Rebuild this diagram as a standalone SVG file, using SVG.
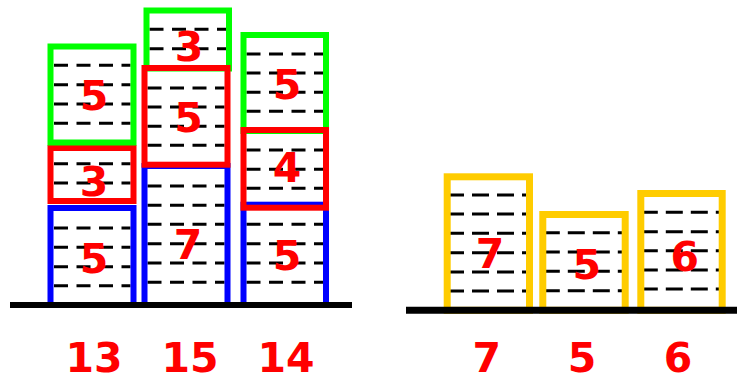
<svg xmlns="http://www.w3.org/2000/svg" width="738" height="383" viewBox="0 0 738 383">
<style>
.bx{fill:none;stroke-width:6}
.by{fill:none;stroke-width:7;stroke:#FFCC00}
.g{stroke:#00FF00}.r{stroke:#FF0000}.b{stroke:#0000FF}
.dl{stroke:#000;stroke-width:3;stroke-dasharray:14 8.5}
.dr{stroke:#000;stroke-width:3;stroke-dasharray:17 8}
.t{font-family:"DejaVu Sans",Verdana,sans-serif;font-weight:bold;font-size:41px;fill:#FF0000;text-anchor:middle}
.gr{stroke:#000}
</style>
<rect width="738" height="383" fill="#fff"/>
<!-- Column 1 -->
<g id="c1-blue">
<line class="dl" x1="54" x2="130.5" y1="228" y2="228"/><line class="dl" x1="54" x2="130.5" y1="247.3" y2="247.3"/><line class="dl" x1="54" x2="130.5" y1="266.7" y2="266.7"/><line class="dl" x1="54" x2="130.5" y1="285.7" y2="285.7"/>
<rect class="bx b" x="50.5" y="208" width="83" height="97"/>
<text class="t" x="94" y="273">5</text>
</g>
<g id="c1-red">
<line class="dl" x1="54" x2="130.5" y1="163.7" y2="163.7"/><line class="dl" x1="54" x2="130.5" y1="183" y2="183"/>
<rect class="bx r" x="50.5" y="148" width="83" height="53"/>
<text class="t" x="94" y="196">3</text>
</g>
<g id="c1-green">
<line class="dl" x1="54" x2="130.5" y1="65.3" y2="65.3"/><line class="dl" x1="54" x2="130.5" y1="84.7" y2="84.7"/><line class="dl" x1="54" x2="130.5" y1="104" y2="104"/><line class="dl" x1="54" x2="130.5" y1="123.3" y2="123.3"/>
<rect class="bx g" x="50.5" y="46.5" width="83" height="96"/>
<text class="t" x="94" y="110">5</text>
</g>
<!-- Column 2 -->
<g id="c2-blue">
<line class="dl" x1="147.5" x2="224.5" y1="186" y2="186"/><line class="dl" x1="147.5" x2="224.5" y1="205.3" y2="205.3"/><line class="dl" x1="147.5" x2="224.5" y1="224.3" y2="224.3"/><line class="dl" x1="147.5" x2="224.5" y1="243.7" y2="243.7"/><line class="dl" x1="147.5" x2="224.5" y1="263" y2="263"/><line class="dl" x1="147.5" x2="224.5" y1="282.3" y2="282.3"/>
<rect class="bx b" x="144.5" y="166" width="83" height="139"/>
<text class="t" x="188" y="259">7</text>
</g>
<g id="c2-green">
<line class="dl" x1="149.5" x2="226" y1="29.3" y2="29.3"/><line class="dl" x1="149.5" x2="226" y1="48.7" y2="48.7"/>
<rect class="bx g" x="146.5" y="10.5" width="82.5" height="58"/>
<text class="t" x="189" y="61">3</text>
</g>
<g id="c2-red">
<line class="dl" x1="147.5" x2="224.5" y1="88" y2="88"/><line class="dl" x1="147.5" x2="224.5" y1="107" y2="107"/><line class="dl" x1="147.5" x2="224.5" y1="126.3" y2="126.3"/><line class="dl" x1="147.5" x2="224.5" y1="145.3" y2="145.3"/>
<rect class="bx r" x="144.5" y="68" width="83" height="96.7"/>
<text class="t" x="188.5" y="131.5">5</text>
</g>
<!-- Column 3 -->
<g id="c3-blue">
<line class="dl" x1="246.5" x2="323" y1="224.3" y2="224.3"/><line class="dl" x1="246.5" x2="323" y1="243.7" y2="243.7"/><line class="dl" x1="246.5" x2="323" y1="263" y2="263"/><line class="dl" x1="246.5" x2="323" y1="282.3" y2="282.3"/>
<rect class="bx b" x="243.5" y="204.7" width="82.5" height="100.3"/>
<text class="t" x="287" y="270">5</text>
</g>
<g id="c3-green">
<line class="dl" x1="246.5" x2="323" y1="54" y2="54"/><line class="dl" x1="246.5" x2="323" y1="73" y2="73"/><line class="dl" x1="246.5" x2="323" y1="92.3" y2="92.3"/><line class="dl" x1="246.5" x2="323" y1="111.3" y2="111.3"/>
<rect class="bx g" x="243.5" y="35" width="82.5" height="96"/>
<text class="t" x="287" y="99">5</text>
</g>
<g id="c3-red">
<line class="dl" x1="246.5" x2="323" y1="150" y2="150"/><line class="dl" x1="246.5" x2="323" y1="169.3" y2="169.3"/><line class="dl" x1="246.5" x2="323" y1="188.3" y2="188.3"/>
<rect class="bx r" x="243.5" y="130" width="82.5" height="77.7"/>
<text class="t" x="287" y="181.5">4</text>
</g>
<!-- Right side -->
<g id="r1">
<line class="dr" x1="447" x2="529.5" y1="195" y2="195"/><line class="dr" x1="447" x2="529.5" y1="214" y2="214"/><line class="dr" x1="447" x2="529.5" y1="233.3" y2="233.3"/><line class="dr" x1="447" x2="529.5" y1="252.7" y2="252.7"/><line class="dr" x1="447" x2="529.5" y1="272" y2="272"/><line class="dr" x1="447" x2="529.5" y1="291" y2="291"/>
<rect class="by" x="447.2" y="176.8" width="82.3" height="133.5"/>
<text class="t" x="490" y="268">7</text>
</g>
<g id="r2">
<line class="dr" x1="542.8" x2="625.2" y1="232.7" y2="232.7"/><line class="dr" x1="542.8" x2="625.2" y1="252" y2="252"/><line class="dr" x1="542.8" x2="625.2" y1="271.3" y2="271.3"/><line class="dr" x1="542.8" x2="625.2" y1="290.7" y2="290.7"/>
<rect class="by" x="542.8" y="214.5" width="82.4" height="95.8"/>
<text class="t" x="586.7" y="279">5</text>
</g>
<g id="r3">
<line class="dr" x1="640.8" x2="722.2" y1="212.3" y2="212.3"/><line class="dr" x1="640.8" x2="722.2" y1="231.7" y2="231.7"/><line class="dr" x1="640.8" x2="722.2" y1="250.7" y2="250.7"/><line class="dr" x1="640.8" x2="722.2" y1="270" y2="270"/><line class="dr" x1="640.8" x2="722.2" y1="289" y2="289"/>
<rect class="by" x="640.8" y="193.5" width="81.4" height="116.8"/>
<text class="t" x="684.7" y="271">6</text>
</g>
<g id="ground">
<line class="gr" x1="10" y1="305" x2="352" y2="305" stroke-width="6"/>
<line class="gr" x1="406" y1="310.3" x2="737" y2="310.3" stroke-width="7"/>
</g>
<g id="totals">
<text class="t" x="94" y="372">13</text>
<text class="t" x="190" y="372">15</text>
<text class="t" x="286" y="372">14</text>
<text class="t" x="486.7" y="372">7</text>
<text class="t" x="582" y="372">5</text>
<text class="t" x="678" y="372">6</text>
</g>
</svg>
